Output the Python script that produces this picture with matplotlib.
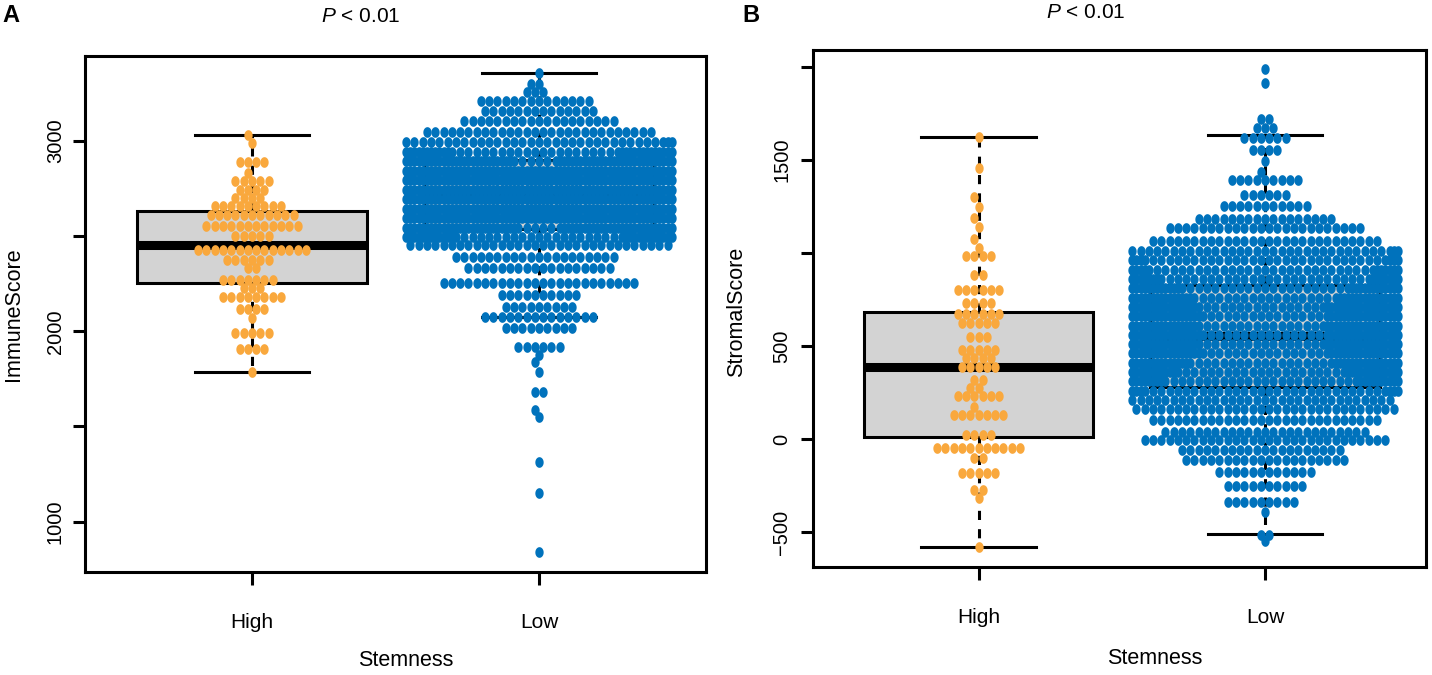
import numpy as np
import matplotlib.pyplot as plt
from matplotlib.path import Path
from matplotlib.markers import MarkerStyle

plt.rcParams['font.family'] = ['Liberation Sans', 'DejaVu Sans']
plt.rcParams['mathtext.fontset'] = 'custom'
plt.rcParams['mathtext.it'] = 'Liberation Sans:italic'
plt.rcParams['mathtext.rm'] = 'Liberation Sans'

groups = ['High', 'Low']
high_color = '#F9A83D'
low_color = '#0072BC'

# swarm rows: score value and number of dots on that row
immune_high_vals = [3032, 2989, 2890, 2832, 2790, 2743, 2700, 2658, 2611, 2553, 2501, 2425,
                    2375, 2333, 2270, 2228, 2180, 2117, 2070, 1991, 1905, 1786]
immune_high_n = [1, 1, 4, 1, 5, 4, 4, 9, 11, 12, 5, 14, 6, 2, 7, 3, 8, 4, 1, 5, 4, 1]

immune_low_vals = [3357, 3300, 3257, 3210, 3160, 3105, 3050, 2995, 2945, 2895, 2845, 2795,
                   2745, 2695, 2645, 2595, 2545, 2495, 2455, 2390, 2335, 2255, 2190, 2130,
                   2075, 2017, 1917, 1875, 1839, 1786, 1681, 1586, 1550, 1313, 1150, 840]
immune_low_n = [1, 2, 3, 14, 14, 19, 28, 34, 45, 60, 70, 75, 78, 78, 75, 70, 60, 45, 32, 20,
                18, 24, 10, 9, 14, 9, 6, 1, 1, 1, 2, 1, 1, 1, 1, 1]

stromal_high_vals = [1624, 1457, 1301, 1247, 1188, 1140, 1075, 1027, 984, 882, 801, 731, 672,
                     624, 548, 478, 435, 387, 317, 274, 231, 172, 129, 22, -48, -102, -183,
                     -274, -317, -581]
stromal_high_n = [1, 1, 1, 1, 1, 1, 1, 1, 4, 2, 6, 4, 6, 5, 3, 5, 4, 5, 2, 2, 6, 1, 7, 4, 11,
                  2, 5, 2, 1, 1]

stromal_low_vals = [1989, 1914, 1720, 1672, 1618, 1555, 1495, 1435, 1392, 1312, 1253, 1183,
                    1134, 1064, 1010, 960, 910, 860, 810, 760, 710, 660, 610, 560, 510, 460,
                    410, 360, 310, 260, 210, 160, 102, 38, -5, -59, -113, -177, -253, -339,
                    -392, -516, -548]
stromal_low_n = [1, 1, 2, 3, 6, 4, 1, 1, 9, 6, 11, 17, 24, 28, 34, 36, 38, 40, 45, 48, 50, 50,
                 50, 50, 50, 50, 48, 45, 42, 36, 32, 32, 28, 25, 30, 20, 20, 12, 10, 9, 1, 2, 1]

# box statistics (High, Low)
immune_q1 = [2254, 2540]
immune_med = [2453, 2730]
immune_q3 = [2632, 2900]
immune_lo = [1786, 2073]
immune_hi = [3032, 3357]

stromal_q1 = [11, 280]
stromal_med = [387, 554]
stromal_q3 = [683, 828]
stromal_lo = [-581, -511]
stromal_hi = [1624, 1634]

DOT_W = 8.3            # px
DOT_H = 10.7           # px
CORRAL = 16.25 * DOT_W  # px, half width of the wrap

t = np.linspace(0, 2 * np.pi, 48)
ell = MarkerStyle(Path(np.column_stack([0.39 * np.cos(t), 0.5 * np.sin(t)])))


def hex_offsets(ypix, counts, w, h):
    offs = [None] * len(counts)
    prev_y = None
    prev_phase = 0.0
    for r in np.argsort(ypix):
        n = counts[r]
        if prev_y is not None and abs(ypix[r] - prev_y) < h:
            phase = 0.5 - prev_phase
        else:
            phase = 0.0 if n % 2 == 1 else 0.5
        ks = np.arange(-n - 1, n + 2) + phase
        ks = ks[np.lexsort((ks, np.abs(ks)))][:n]
        offs[r] = ks * w
        prev_y = ypix[r]
        prev_phase = phase
    return offs


def panel(ax, vals, ns, q1, med, q3, lo, hi, xlim, ylim, yticks, ylabels, ypad):
    stats = [dict(med=med[i], q1=q1[i], q3=q3[i], whislo=lo[i], whishi=hi[i], fliers=[])
             for i in range(2)]
    ax.bxp(stats, positions=[1, 2], widths=0.8, patch_artist=True, showfliers=False,
           boxprops=dict(facecolor='#D3D3D3', edgecolor='black', linewidth=2.2),
           medianprops=dict(color='black', linewidth=6.5, solid_capstyle='butt'),
           whiskerprops=dict(color='black', linewidth=2.2, linestyle=(0, (3, 3))),
           capprops=dict(color='black', linewidth=2.2), zorder=1)
    ax.set_xlim(xlim)
    ax.set_ylim(ylim)
    for k, col in enumerate([high_color, low_color]):
        rows = np.array(vals[k], dtype=float)
        pix = ax.transData.transform(np.column_stack([np.full(len(rows), k + 1.0), rows]))
        offs = hex_offsets(pix[:, 1], ns[k], DOT_W, DOT_H)
        xs, ys = [], []
        for r in range(len(rows)):
            dx = (offs[r] + CORRAL) % (2 * CORRAL) - CORRAL
            xs.append(pix[r, 0] + dx)
            ys.append(np.full(len(dx), pix[r, 1]))
        pts = ax.transData.inverted().transform(np.column_stack([np.concatenate(xs), np.concatenate(ys)]))
        ax.scatter(pts[:, 0], pts[:, 1], s=59, marker=ell, color=col, linewidths=0, zorder=3)
    ax.set_xlim(xlim)
    ax.set_ylim(ylim)
    ax.set_xticks([1, 2])
    ax.set_xticklabels(groups)
    ax.set_yticks(yticks)
    ax.set_yticklabels(ylabels)
    ax.tick_params(axis='x', length=9.4, width=2.2, pad=20, labelsize=15)
    ax.tick_params(axis='y', length=8.6, width=2.2, pad=ypad, labelsize=14.5, labelrotation=90)
    for lab in ax.get_yticklabels():
        lab.set_va('center')
    for s in ax.spines.values():
        s.set_linewidth(2.2)


fig = plt.figure(figsize=(14.32, 6.75), dpi=100)
W, H = 1432, 675

axA = fig.add_axes([85 / W, 1 - 572 / H, 621 / W, 516 / H])
panel(axA, [immune_high_vals, immune_low_vals], [immune_high_n, immune_low_n],
      immune_q1, immune_med, immune_q3, immune_lo, immune_hi,
      (0.418, 2.582), (735, 3447),
      [1000, 1500, 2000, 2500, 3000], ['1000', '', '2000', '', '3000'], 6)

axB = fig.add_axes([813 / W, 1 - 567 / H, 613 / W, 517 / H])
panel(axB, [stromal_high_vals, stromal_low_vals], [stromal_high_n, stromal_low_n],
      stromal_q1, stromal_med, stromal_q3, stromal_lo, stromal_hi,
      (0.422, 2.562), (-688, 2091),
      [-500, 0, 500, 1000, 1500, 2000], ['\u2212500', '0', '500', '', '1500', ''], 7)

fig.text(2 / W, 1 - 16 / H, 'A', fontsize=17, fontweight='bold', ha='left', va='center')
fig.text(742 / W, 1 - 16 / H, 'B', fontsize=17, fontweight='bold', ha='left', va='center')
fig.text(361 / W, 1 - 16 / H, r'$\mathit{P}$ < 0.01', fontsize=15, ha='center', va='center')
fig.text(1086 / W, 1 - 12 / H, r'$\mathit{P}$ < 0.01', fontsize=15, ha='center', va='center')
fig.text(14 / W, 1 - 314 / H, 'ImmuneScore', fontsize=15.5, rotation=90, ha='center', va='center')
fig.text(737 / W, 1 - 312 / H, 'StromalScore', fontsize=15.5, rotation=90, ha='center', va='center')
fig.text(406 / W, 1 - 660 / H, 'Stemness', fontsize=15.5, ha='center', va='center')
fig.text(1155 / W, 1 - 658 / H, 'Stemness', fontsize=15.5, ha='center', va='center')

fig.savefig('out.png', dpi=100, facecolor='white')
